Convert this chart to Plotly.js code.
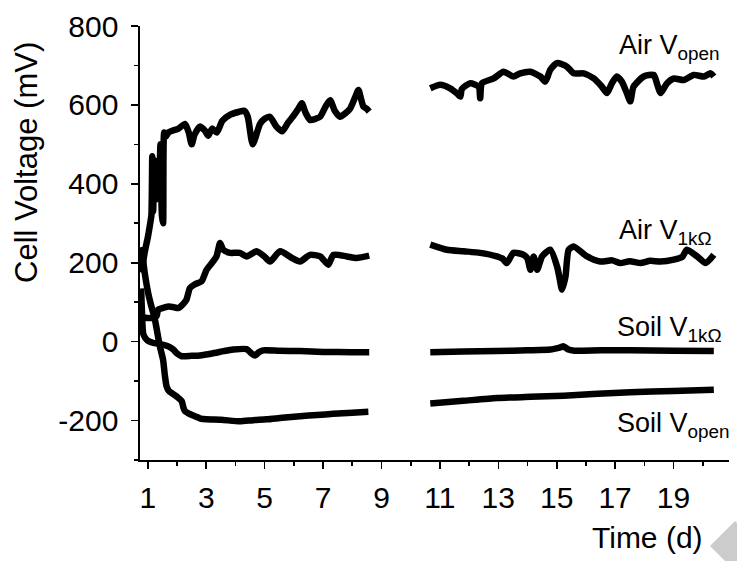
<!DOCTYPE html>
<html>
<head>
<meta charset="utf-8">
<script src="https://cdn.plot.ly/plotly-3.0.1.min.js"></script>
<style>html,body{margin:0;padding:0;background:#fff;}#chart{width:737px;height:561px;}</style>
</head>
<body>
<div id="chart"></div>
<script>
// Time (d) and cell voltage (mV); null separates the two recording periods
const airOpenT = [0.78,0.9,1.0,1.08,1.12,1.15,1.18,1.22,1.27,1.32,1.38,1.43,1.48,1.52,1.56,1.62,1.70,1.85,2.05,2.27,2.4,2.5,2.6,2.78,2.95,3.07,3.2,3.36,3.55,3.81,4.1,4.3,4.42,4.59,4.84,5.0,5.18,5.4,5.6,5.8,5.98,6.15,6.27,6.4,6.55,6.75,6.9,7.1,7.24,7.4,7.58,7.75,7.92,8.1,8.21,8.3,8.38,8.5,8.58,
  null,
  10.67,11.01,11.35,11.6,11.70,11.75,12.04,12.33,12.38,12.44,12.84,13.18,13.52,13.75,14.10,14.44,14.61,14.78,15.01,15.35,15.58,15.92,16.27,16.55,16.72,16.89,17.06,17.23,17.4,17.52,17.63,17.98,18.32,18.45,18.55,18.78,19.01,19.35,19.69,20.04,20.27,20.38];
const airOpenV = [175,230,265,300,320,470,330,460,360,440,380,500,320,300,530,520,530,535,540,552,530,500,525,545,535,522,540,530,560,575,582,585,570,500,552,565,570,545,533,555,572,590,604,580,562,565,570,598,612,585,570,578,590,620,638,615,596,590,583,
  null,
  642,651,642,628,621,640,655,646,617,655,667,684,672,680,684,672,659,689,706,697,680,680,667,646,630,655,672,659,630,609,646,672,676,650,630,655,667,663,676,672,680,672];

const airOneT = [0.78,1.0,1.2,1.3,1.35,1.5,1.70,1.85,2.04,2.2,2.32,2.44,2.6,2.84,3.01,3.2,3.35,3.47,3.58,3.81,4.15,4.38,4.72,5.0,5.18,5.53,5.93,6.21,6.55,6.90,7.18,7.35,7.81,8.15,8.58,
  null,
  10.67,11.24,11.81,12.38,12.95,13.15,13.29,13.52,13.87,14.0,14.10,14.21,14.33,14.50,14.78,15.01,15.1,15.18,15.30,15.41,15.58,16.04,16.49,16.9,17.18,17.5,17.87,18.2,18.55,19.01,19.3,19.46,19.81,20.10,20.38];
const airOneV = [62,60,60,65,81,85,89,88,85,95,106,136,145,153,182,200,216,250,233,225,225,216,229,215,203,229,212,203,220,216,195,220,216,212,218,
  null,
  246,233,229,225,216,210,199,225,220,210,182,216,182,216,233,191,160,132,165,233,241,216,203,206,199,204,199,205,203,208,215,233,216,199,220];

const soilOneT = [0.77,0.8,0.84,0.92,1.0,1.18,1.35,1.52,1.7,1.87,2.0,2.16,2.5,2.78,3.2,3.6,3.92,4.38,4.55,4.67,4.8,4.95,5.5,6.21,7.0,8.0,8.58,
  null,
  10.67,11.8,12.95,14.0,14.78,15.1,15.24,15.4,15.6,16.5,17.52,19.0,20.38];
const soilOneV = [135,70,20,8,2,-3,-5,-8,-12,-20,-30,-37,-36,-35,-30,-24,-20,-19,-30,-35,-27,-22,-23,-24,-26,-27,-27,
  null,
  -27,-25,-24,-22,-20,-15,-12,-20,-23,-22,-22,-23,-24];

const soilOpenT = [0.78,0.9,1.01,1.1,1.24,1.41,1.52,1.58,1.64,1.72,1.81,2.0,2.16,2.22,2.27,2.45,2.61,2.8,3.01,3.5,4.15,4.6,5.07,5.6,6.21,6.8,7.35,8.0,8.55,
  null,
  10.67,11.8,12.95,14.1,15.24,16.4,17.52,19.0,20.38];
const soilOpenV = [240,170,123,95,56,-12,-46,-85,-113,-125,-130,-140,-151,-168,-176,-184,-189,-195,-197,-198,-202,-199,-197,-193,-189,-186,-183,-180,-178,
  null,
  -157,-150,-143,-140,-137,-132,-128,-125,-122];

const xTickVals = [1,3,5,7,9,11,13,15,17,19];
const xMinorVals = [2,4,6,8,10,12,14,16,18,20];
const yTickVals = [-200,0,200,400,600,800];
const yMinorVals = [-300,-100,100,300,500,700];

const seriesLabels = ['Air V<sub>open</sub>','Air V<sub>1kΩ</sub>','Soil V<sub>1kΩ</sub>','Soil V<sub>open</sub>'];

const FONT = 'Liberation Sans, Arial, sans-serif';
const lineStyle = {color:'#000', width:6.5, shape:'spline', smoothing:0.6};
function tr(x,y){return {x:x,y:y,type:'scatter',mode:'lines',line:lineStyle,connectgaps:false,hoverinfo:'skip'};}
const data = [tr(airOpenT,airOpenV),tr(airOneT,airOneV),tr(soilOneT,soilOneV),tr(soilOpenT,soilOpenV)];

// pixel -> paper helpers (plot area: x 140..729, y 26..460)
function px(x){return (x-140)/589;}
function py(y){return (460-y)/434;}

const labelPos = [[617,47],[617,232],[615,329],[615,425]];
const annotations = seriesLabels.map((t,i)=>({
  text:t, xref:'paper', yref:'paper', x:px(labelPos[i][0]), y:py(labelPos[i][1]),
  xanchor:'left', yanchor:'middle', showarrow:false, font:{family:FONT,size:27,color:'#000'}
}));
annotations.push({text:'Cell Voltage (mV)', xref:'paper', yref:'paper', x:px(26), y:py(163), textangle:-90,
  xanchor:'center', yanchor:'middle', showarrow:false, font:{family:FONT,size:31,color:'#000'}});
annotations.push({text:'Time (d)', xref:'paper', yref:'paper', x:px(647), y:py(537),
  xanchor:'center', yanchor:'middle', showarrow:false, font:{family:FONT,size:30,color:'#000'}});

const layout = {
  width:737, height:561,
  margin:{l:140, r:8, t:26, b:101, pad:0},
  paper_bgcolor:'#fff', plot_bgcolor:'#fff',
  showlegend:false,
  font:{family:FONT, color:'#000'},
  xaxis:{range:[0.73,20.9], showgrid:false, zeroline:false, showline:true, linecolor:'#000', linewidth:1.6,
    ticks:'outside', ticklen:7, tickwidth:1.6, tickcolor:'#000', tickmode:'array', tickvals:xTickVals,
    ticktext:xTickVals.map(String), tickfont:{family:FONT,size:30,color:'#000'}, ticklabelstandoff:3,
    minor:{tickmode:'array', tickvals:xMinorVals, ticks:'outside', ticklen:4, tickwidth:1.6, tickcolor:'#000', showgrid:false}},
  yaxis:{range:[-300,800], showgrid:false, zeroline:false, showline:true, linecolor:'#000', linewidth:1.6,
    ticks:'outside', ticklen:7, tickwidth:1.6, tickcolor:'#000', tickmode:'array', tickvals:yTickVals,
    ticktext:yTickVals.map(String), tickfont:{family:FONT,size:30,color:'#000'}, ticklabelstandoff:7,
    minor:{tickmode:'array', tickvals:yMinorVals, ticks:'outside', ticklen:4, tickwidth:1.6, tickcolor:'#000', showgrid:false}},
  annotations:annotations,
  shapes:[{type:'path', xref:'paper', yref:'paper', layer:'above',
    path:'M '+px(710)+' '+py(546)+' L '+px(735)+' '+py(521)+' L '+px(760)+' '+py(546)+' L '+px(735)+' '+py(571)+' Z',
    fillcolor:'#cccccc', line:{width:0}}]
};

Plotly.newPlot('chart', data, layout, {staticPlot:true, displayModeBar:false});
</script>
</body>
</html>
